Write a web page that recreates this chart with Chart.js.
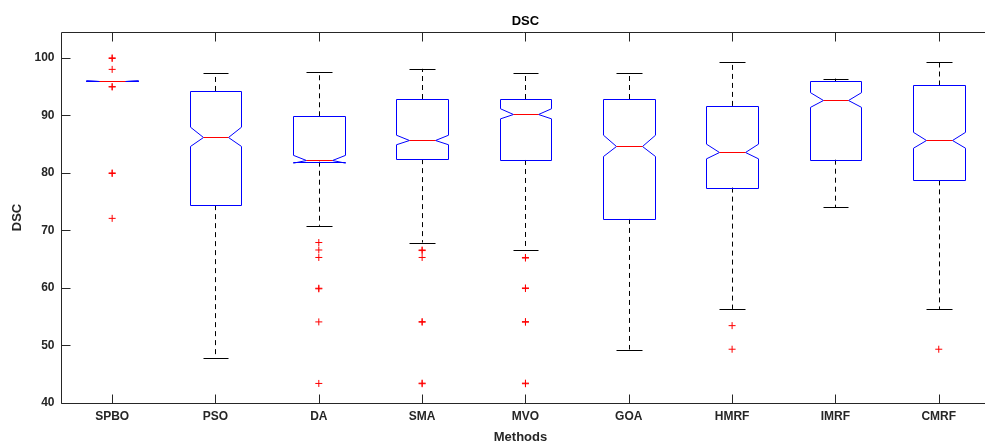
<!DOCTYPE html>
<html>
<head>
<meta charset="utf-8">
<script src="https://cdn.jsdelivr.net/npm/chart.js@4.4.1/dist/chart.umd.min.js"></script>
<style>
  html, body { margin: 0; padding: 0; background: #fff; overflow: hidden; }
</style>
</head>
<body>
<canvas id="dsc" width="985" height="448"></canvas>
<script>
// donnees
const methods = ["SPBO", "PSO", "DA", "SMA", "MVO", "GOA", "HMRF", "IMRF", "CMRF"];
const whiskerLow = [96, 47.9, 70.8, 67.9, 66.6, 49.3, 56.35, 74.0, 56.35];
const q1 = [96, 74.4, 81.95, 82.4, 82.25, 72.0, 77.45, 82.3, 78.7];
const notchLo = [96, 84.6, 81.7, 84.9, 89.4, 82.85, 82.45, 91.4, 84.3];
const medians = [96, 86.25, 82.25, 85.75, 90.25, 84.7, 83.7, 92.65, 85.7];
const notchHi = [96, 87.95, 83.05, 86.55, 91.15, 86.55, 85.0, 93.95, 87.05];
const q3 = [96, 94.25, 89.85, 92.85, 92.85, 92.85, 91.65, 95.9, 95.2];
const whiskerHigh = [96, 97.3, 97.6, 98.1, 97.3, 97.3, 99.35, 96.4, 99.35];
const outliers = [
  [100, 99.9, 98, 95, 94.95, 80, 79.9, 72.1],
  [],
  [67.9, 66.6, 65.3, 59.95, 59.85, 54.1, 43.4],
  [66.6, 66.5, 65.3, 54.15, 54.05, 43.45, 43.35],
  [65.3, 65.2, 60, 59.9, 54.15, 54.05, 43.45, 43.35],
  [],
  [53.45, 49.35],
  [],
  [49.35]
];
const yTicks = [40, 50, 60, 70, 80, 90, 100];

const FONT = "'Liberation Sans', Arial, Helvetica, sans-serif";

// l'axe MATLAB va de 0.5 a 9.5 mais l'image est coupee a droite
const X_MIN = 0.5;
const X_MAX = 9.404;
const X_FULL = 9.5;

// points aberrants -> dataset scatter
const outlierPoints = [];
outliers.forEach((list, i) => {
  list.forEach((v) => outlierPoints.push({ x: i + 1, y: v }));
});

const snap = (v) => Math.round(v) + 0.5;

// dessin des boites a encoche avec les echelles du graphique
const boxPlugin = {
  id: "notchedBox",
  beforeDatasetsDraw(chart) {
    const ctx = chart.ctx;
    const x = chart.scales.x;
    const y = chart.scales.y;
    const halfW = 0.25;
    const halfN = 0.125;
    ctx.save();
    ctx.lineWidth = 1;
    for (let i = 0; i < methods.length; i++) {
      const c = i + 1;
      const xc = snap(x.getPixelForValue(c));
      const xl = snap(x.getPixelForValue(c - halfW));
      const xr = snap(x.getPixelForValue(c + halfW));
      const xil = snap(x.getPixelForValue(c - halfN));
      const xir = snap(x.getPixelForValue(c + halfN));

      // moustaches
      ctx.strokeStyle = "#000";
      ctx.setLineDash([5, 4]);
      ctx.beginPath();
      ctx.moveTo(xc, y.getPixelForValue(q3[i]));
      ctx.lineTo(xc, y.getPixelForValue(whiskerHigh[i]));
      ctx.moveTo(xc, y.getPixelForValue(q1[i]));
      ctx.lineTo(xc, y.getPixelForValue(whiskerLow[i]));
      ctx.stroke();
      ctx.setLineDash([]);
      ctx.beginPath();
      const yh = snap(y.getPixelForValue(whiskerHigh[i]));
      const yl = snap(y.getPixelForValue(whiskerLow[i]));
      ctx.moveTo(xil, yh);
      ctx.lineTo(xir, yh);
      ctx.moveTo(xil, yl);
      ctx.lineTo(xir, yl);
      ctx.stroke();

      // boite
      const yq3 = snap(y.getPixelForValue(q3[i]));
      const yq1 = snap(y.getPixelForValue(q1[i]));
      const ynh = y.getPixelForValue(notchHi[i]);
      const ynl = y.getPixelForValue(notchLo[i]);
      const ym = snap(y.getPixelForValue(medians[i]));
      ctx.strokeStyle = "#0000ff";
      ctx.beginPath();
      ctx.moveTo(xl, yq3);
      ctx.lineTo(xl, ynh);
      ctx.lineTo(xil, ym);
      ctx.lineTo(xl, ynl);
      ctx.lineTo(xl, yq1);
      ctx.lineTo(xr, yq1);
      ctx.lineTo(xr, ynl);
      ctx.lineTo(xir, ym);
      ctx.lineTo(xr, ynh);
      ctx.lineTo(xr, yq3);
      ctx.closePath();
      ctx.stroke();

      // mediane
      ctx.strokeStyle = "#ff0000";
      ctx.beginPath();
      ctx.moveTo(xil, ym);
      ctx.lineTo(xir, ym);
      ctx.stroke();
    }
    ctx.restore();
  },
  afterDraw(chart) {
    // cadre et graduations vers l'interieur (style MATLAB)
    const ctx = chart.ctx;
    const a = chart.chartArea;
    const x = chart.scales.x;
    const y = chart.scales.y;
    const L = snap(a.left), T = snap(a.top), B = snap(a.bottom);
    const fullRight = x.getPixelForValue(X_FULL);
    const tl = 9;
    ctx.save();
    ctx.strokeStyle = "#262626";
    ctx.lineWidth = 1;
    ctx.beginPath();
    ctx.moveTo(L, T);
    ctx.lineTo(chart.width, T);
    ctx.moveTo(L, T);
    ctx.lineTo(L, B);
    ctx.lineTo(chart.width, B);
    for (let i = 0; i < methods.length; i++) {
      const px = snap(x.getPixelForValue(i + 1));
      ctx.moveTo(px, B);
      ctx.lineTo(px, B - tl);
      ctx.moveTo(px, T);
      ctx.lineTo(px, T + tl);
    }
    yTicks.forEach((v) => {
      const py = snap(y.getPixelForValue(v));
      ctx.moveTo(L, py);
      ctx.lineTo(L + tl, py);
    });
    ctx.stroke();

    // titre centre sur toute la largeur de l'axe
    ctx.fillStyle = "#000";
    ctx.font = "bold 13px " + FONT;
    ctx.textAlign = "center";
    ctx.textBaseline = "middle";
    ctx.fillText("DSC", (a.left + fullRight) / 2, 21);
    ctx.restore();
  }
};

const ctx = document.getElementById("dsc").getContext("2d");
new Chart(ctx, {
  type: "scatter",
  data: {
    datasets: [
      {
        label: "outliers",
        data: outlierPoints,
        pointStyle: "cross",
        pointRadius: 3.5,
        pointHoverRadius: 3.5,
        borderColor: "#ff0000",
        backgroundColor: "#ff0000",
        borderWidth: 1,
      },
    ],
  },
  options: {
    responsive: false,
    animation: false,
    events: [],
    layout: { padding: { top: 32, right: 0, bottom: 0, left: 0 } },
    plugins: {
      legend: { display: false },
      tooltip: { enabled: false },
      title: { display: false },
    },
    scales: {
      x: {
        type: "linear",
        min: X_MIN,
        max: X_MAX,
        grid: { display: false, drawTicks: false },
        border: { display: false },
        afterBuildTicks: (s) => {
          s.ticks = methods.map((m, i) => ({ value: i + 1 }));
        },
        afterFit: (s) => {
          s.height = 45;
        },
        ticks: {
          color: "#262626",
          padding: 6,
          maxRotation: 0,
          autoSkip: false,
          font: { family: FONT, size: 12, weight: "bold" },
          callback: (v) => methods[Math.round(v) - 1],
        },
        title: {
          display: true,
          text: "Methods",
          color: "#262626",
          font: { family: FONT, size: 13, weight: "bold" },
          padding: { top: 0, bottom: 3 },
        },
      },
      y: {
        min: 40,
        max: 104.5,
        grid: { display: false, drawTicks: false },
        border: { display: false },
        afterBuildTicks: (s) => {
          s.ticks = yTicks.map((v) => ({ value: v }));
        },
        afterFit: (s) => {
          s.width = 60.5;
        },
        ticks: {
          color: "#262626",
          padding: 6,
          font: { family: FONT, size: 12, weight: "bold" },
        },
        title: {
          display: true,
          text: "DSC",
          color: "#262626",
          font: { family: FONT, size: 13, weight: "bold" },
          padding: { top: 10, bottom: 0 },
        },
      },
    },
  },
  plugins: [boxPlugin],
});
</script>
</body>
</html>
